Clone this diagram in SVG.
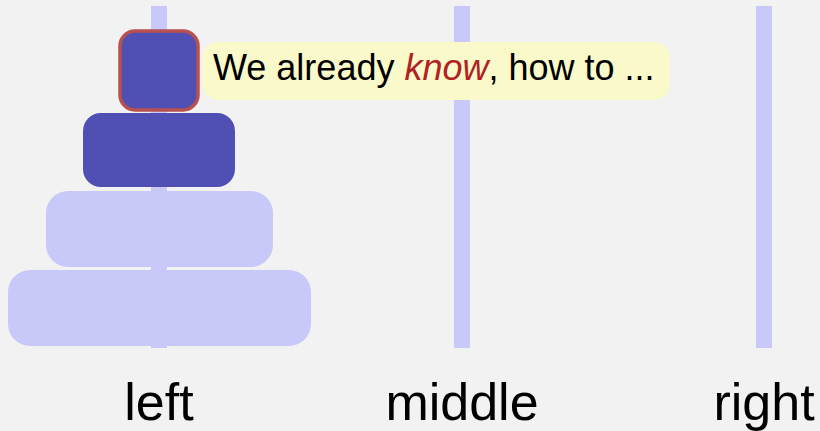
<svg xmlns="http://www.w3.org/2000/svg" width="820" height="431" viewBox="0 0 820 431">
<style>
.pole{fill:#c9c9f9}
.light{fill:#c9c9f9}
.dark{fill:#5050b4}
.lbl{font-family:"Liberation Sans",Arial,sans-serif;font-size:52px;fill:#000;text-anchor:middle}
.call{font-family:"Liberation Sans",Arial,sans-serif;font-size:36px;fill:#000}
</style>
<rect width="820" height="431" fill="#f2f2f2"/>
<g id="poles">
<rect class="pole" x="151" y="6" width="16" height="342"/>
<rect class="pole" x="454" y="6" width="16" height="342"/>
<rect class="pole" x="756" y="6" width="16" height="342"/>
</g>
<g id="disk4"><rect class="light" x="8" y="270" width="303" height="76" rx="22"/></g>
<g id="disk3"><rect class="light" x="46" y="191" width="227" height="76" rx="22"/></g>
<g id="disk2"><rect class="dark" x="83" y="113" width="152" height="74" rx="18"/></g>
<g id="disk1"><rect class="dark" x="120" y="31" width="78" height="79" rx="15" stroke="#b85050" stroke-width="3.5"/></g>
<g id="callout">
<rect x="202" y="42" width="468" height="58" rx="16" fill="#f9f9c9"/>
<text class="call" x="213" y="80">We already <tspan fill="#b22222" font-style="italic">know</tspan>, how to ...</text>
</g>
<g id="labels">
<text class="lbl" x="159" y="420">left</text>
<text class="lbl" x="462" y="420">middle</text>
<text class="lbl" x="764" y="420">right</text>
</g>
</svg>
